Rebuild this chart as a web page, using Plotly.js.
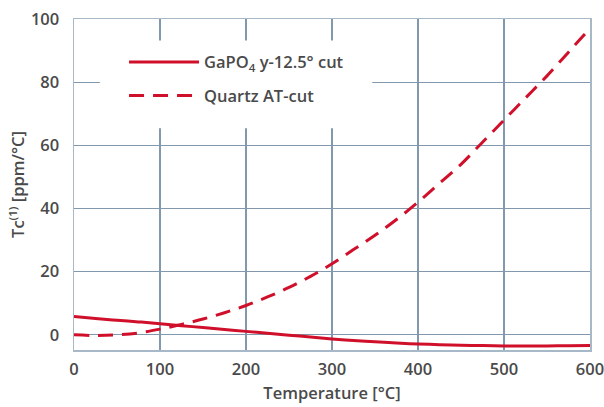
<!DOCTYPE html>
<html><head><meta charset="utf-8">
<script src="https://cdn.plot.ly/plotly-3.0.1.min.js"></script>
<style>html,body{margin:0;padding:0;background:#fff}#chart{width:604px;height:407px}</style>
</head><body><div id="chart"></div>
<script>
var temperature = [0, 25, 50, 75, 100, 125, 150, 175, 200, 225, 250, 275, 300, 325, 350, 375, 400, 425, 450, 475, 500, 525, 550, 575, 600];
var gapo4 = [5.8, 5.2, 4.6, 4.1, 3.5, 2.9, 2.3, 1.7, 1.1, 0.5, -0.1, -0.7, -1.3, -1.8, -2.2, -2.6, -2.9, -3.1, -3.3, -3.4, -3.5, -3.5, -3.5, -3.45, -3.4];
var quartz = [0, -0.2, 0, 0.6, 1.8, 3.3, 5.0, 7.0, 9.3, 12.0, 15.0, 18.5, 22.5, 27.0, 31.5, 36.5, 42.0, 48.0, 54.0, 61.0, 68.0, 75.0, 82.0, 89.5, 97.0];
var seriesNames = ["GaPO<sub>4</sub> y-12.5° cut", "Quartz AT-cut"];
var xTicks = [0, 100, 200, 300, 400, 500, 600];
var yTicks = [0, 20, 40, 60, 80, 100];

var red = '#d0102a';
var gridc = '#8198ad';
var font = {family: 'Open Sans, sans-serif', size: 16.5, color: '#4a4a4a', weight: 600};

var traces = [
  {x: temperature, y: gapo4, name: seriesNames[0], mode: 'lines', legendgroup: 'a',
   line: {color: red, width: 3, shape: 'spline'}},
  {x: temperature, y: quartz, name: seriesNames[1], mode: 'lines', legendgroup: 'b',
   line: {color: red, width: 3, dash: '15px,9px', shape: 'spline'}}
];

var layout = {
  width: 604, height: 407,
  margin: {l: 74, r: 14, t: 19, b: 57},
  paper_bgcolor: '#fff', plot_bgcolor: '#fff',
  font: font,
  showlegend: true,
  legend: {x: 0.097, y: 0.922, xanchor: 'left', yanchor: 'top', bgcolor: 'rgba(0,0,0,0)',
           font: {family: 'Open Sans, sans-serif', size: 16.5, color: '#4a4a4a', weight: 600},
           itemwidth: 70, tracegroupgap: 9},
  shapes: [{type: 'rect', xref: 'paper', yref: 'paper', x0: 0.05, x1: 0.578, y0: 0.67, y1: 0.935,
            fillcolor: '#fff', line: {width: 0}, layer: 'above'}],
  xaxis: {range: [0, 600], tickvals: xTicks, showgrid: true, gridcolor: gridc, gridwidth: 1.1,
          showline: true, linecolor: '#a7b9c9', linewidth: 1.5, mirror: true, zeroline: false,
          ticks: '', ticklabelstandoff: 4, ticklabeloverflow: 'allow', tickfont: font,
          title: {text: 'Temperature [°C]', font: font, standoff: 8}},
  yaxis: {range: [-4.8, 100], tickvals: yTicks, showgrid: true, gridcolor: gridc, gridwidth: 1.1,
          showline: true, linecolor: '#a7b9c9', linewidth: 1.5, mirror: true, zeroline: false,
          ticks: '', ticklabelstandoff: 10, ticklabeloverflow: 'allow', tickfont: font,
          title: {text: 'Tc<sup>(1)</sup> [ppm/°C]', font: font, standoff: 2}}
};
Plotly.newPlot('chart', traces, layout, {staticPlot: true});
</script></body></html>
